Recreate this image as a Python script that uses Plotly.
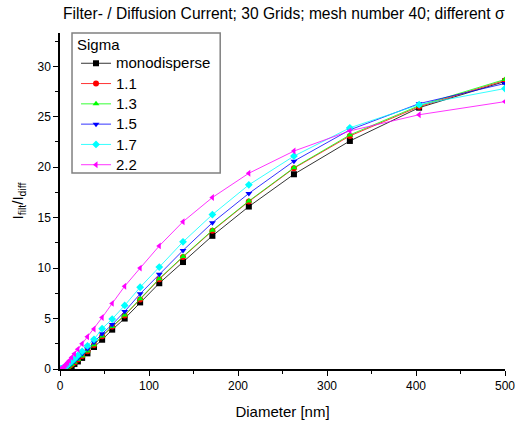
import plotly.graph_objects as go

diameter = [1.0, 1.239, 1.535, 1.902, 2.357, 2.920, 3.618, 4.482, 5.553, 6.880,
            8.525, 10.56, 13.09, 16.21, 20.09, 24.89, 30.84, 38.21, 47.34, 58.65,
            72.67, 90.04, 111.55, 138.21, 171.24, 212.17, 262.87, 325.7, 403.5, 500.0]

mono = [0, 0, 0, 0, 0, 0, 0, 0, 0.005, 0.02,
        0.06, 0.15, 0.3, 0.5, 0.75, 1.1, 1.55, 2.18, 2.9, 3.9,
        5.0, 6.6, 8.5, 10.6, 13.2, 16.1, 19.3, 22.6, 25.9, 28.5]
s11 = [0, 0, 0, 0, 0, 0, 0.01, 0.02, 0.05, 0.1,
       0.18, 0.3, 0.45, 0.65, 0.95, 1.3, 1.75, 2.38, 3.25, 4.2,
       5.3, 6.9, 8.9, 11.1, 13.7, 16.6, 19.9, 23.1, 26.0, 28.6]
s13 = [0, 0, 0, 0, 0, 0, 0.01, 0.02, 0.05, 0.1,
       0.18, 0.3, 0.45, 0.66, 0.95, 1.3, 1.78, 2.4, 3.27, 4.22,
       5.35, 6.95, 8.95, 11.15, 13.75, 16.65, 19.95, 23.2, 26.1, 28.7]
s15 = [0, 0, 0.001, 0.003, 0.007, 0.015, 0.03, 0.06, 0.1, 0.17,
       0.27, 0.4, 0.56, 0.8, 1.1, 1.5, 2.0, 2.64, 3.5, 4.4,
       5.7, 7.45, 9.4, 11.75, 14.5, 17.4, 20.6, 23.7, 26.3, 28.3]
s17 = [0.002, 0.005, 0.01, 0.02, 0.03, 0.05, 0.08, 0.13, 0.19, 0.28,
       0.4, 0.55, 0.75, 1.0, 1.35, 1.75, 2.3, 2.94, 4.0, 4.95,
       6.3, 8.1, 10.1, 12.6, 15.3, 18.25, 21.1, 23.9, 26.2, 27.8]
s22 = [0.01, 0.02, 0.03, 0.05, 0.08, 0.12, 0.17, 0.25, 0.35, 0.48,
       0.65, 0.85, 1.15, 1.5, 1.95, 2.5, 3.2, 3.96, 5.1, 6.5,
       8.2, 10.0, 12.2, 14.6, 17.0, 19.4, 21.6, 23.6, 25.2, 26.5]

series_names = ["monodisperse", "1.1", "1.3", "1.5", "1.7", "2.2"]
series_values = [mono, s11, s13, s15, s17, s22]
colors = ["#000000", "#ff0000", "#00ff00", "#0000ff", "#00ffff", "#ff00ff"]
symbols = ["square", "circle", "triangle-up", "triangle-down", "diamond", "triangle-left"]

FONT = "Liberation Sans, Arial, sans-serif"

fig = go.Figure()
for name, vals, col, sym in zip(series_names, series_values, colors, symbols):
    fig.add_trace(go.Scatter(
        x=diameter, y=vals, mode="lines+markers",
        name='<span style="font-size:15px">' + name + "</span>",
        line=dict(color=col, width=0.8),
        marker=dict(color=col, symbol=sym, size=6, line=dict(width=0)),
    ))

axis_common = dict(
    showline=True, linecolor="black", linewidth=1.5, mirror=False,
    ticks="outside", ticklen=5, tickwidth=1.2, tickcolor="black",
    showgrid=False, zeroline=False, automargin=False,
    tickfont=dict(family=FONT, size=12, color="black"),
)

# legend frame (box drawn as a layout shape; title as annotation)
fig.add_shape(type="rect", xref="paper", yref="paper",
              x0=0.027, x1=0.360, y0=0.583, y1=1.0,
              line=dict(color="#808080", width=1.5), fillcolor="white", layer="below")
fig.add_annotation(text="Sigma", xref="paper", yref="paper", x=0.033, y=0.966,
                   xanchor="left", yanchor="middle", showarrow=False,
                   font=dict(family=FONT, size=15, color="black"))

fig.update_layout(
    width=517, height=425,
    margin=dict(l=60, r=12, t=33, b=56, autoexpand=False),
    paper_bgcolor="white", plot_bgcolor="white",
    title=dict(text="Filter- / Diffusion Current; 30 Grids; mesh number 40; different σ",
               x=0.122, xanchor="left", y=0.967, yanchor="middle",
               font=dict(family=FONT, size=15.6, color="black")),
    xaxis=dict(range=[0, 500], tickvals=[0, 100, 200, 300, 400, 500],
               minor=dict(ticks="outside", ticklen=3, dtick=50, tickcolor="black", tickwidth=1),
               title=dict(text="Diameter [nm]", standoff=14,
                          font=dict(family=FONT, size=15, color="black")),
               **axis_common),
    yaxis=dict(range=[0, 33.3], tickvals=[0, 5, 10, 15, 20, 25, 30],
               minor=dict(ticks="outside", ticklen=3, dtick=2.5, tickcolor="black", tickwidth=1),
               title=dict(text="I<sub>filt</sub>/I<sub>diff</sub>", standoff=10,
                          font=dict(family=FONT, size=15, color="black")),
               **axis_common),
    legend=dict(
        x=0.036, y=0.955, xanchor="left", yanchor="top",
        bgcolor="rgba(0,0,0,0)", borderwidth=0,
        font=dict(family=FONT, size=13.3, color="black"),
        tracegroupgap=0, itemwidth=30,
    ),
    showlegend=True,
)

fig.write_html("out.html", config={"displayModeBar": False},
               post_script="document.body.style.margin='0';document.body.style.padding='0';")
